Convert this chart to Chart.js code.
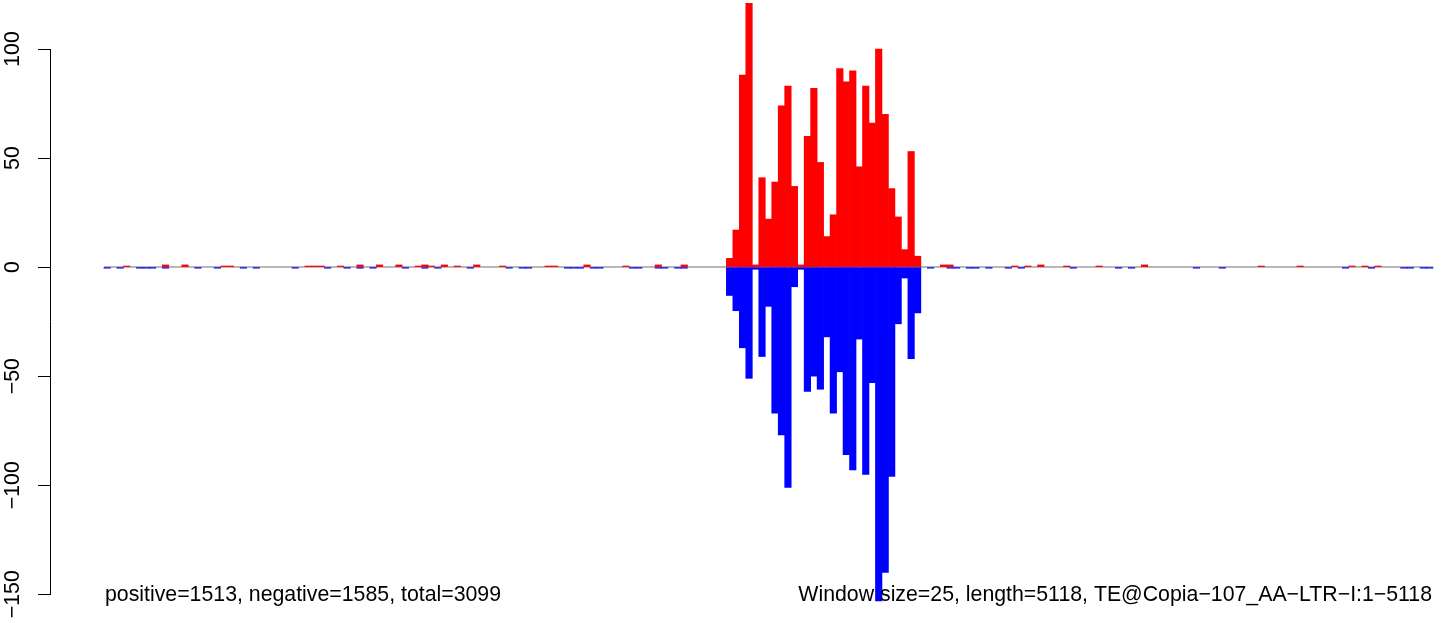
<!DOCTYPE html>
<html>
<head>
<meta charset="utf-8">
<script src="https://cdn.jsdelivr.net/npm/chart.js@4"></script>
<style>
  html, body { margin: 0; padding: 0; background: #ffffff; }
  #wrap { width: 1444px; height: 623px; position: relative; }
</style>
</head>
<body>
<div id="wrap"><canvas id="chart"></canvas></div>
<script>
// one bin per 25 bp window, 205 windows over 5118 bp
const binCount = 205;

const positive = [
  0, 0, 0, 0.5, 0, 0, 0, 0, 0, 1, 0, 0, 1, 0, 0, 0, 0, 0, 0.5, 0.5,
  0, 0, 0, 0, 0, 0, 0, 0, 0, 0, 0, 0.5, 0.5, 0.5, 0, 0, 0.5, 0, 0, 1,
  0, 0, 1, 0, 0, 1, 0, 0, 0.5, 1, 0.5, 0, 1, 0, 0.5, 0, 0, 1, 0, 0,
  0, 0.5, 0, 0, 0, 0, 0, 0, 0.5, 0.5, 0, 0, 0, 0, 1, 0, 0, 0, 0, 0,
  0.5, 0, 0, 0, 0, 1, 0, 0, 0, 1, 0, 0, 0, 0, 0, 0, 4, 17, 88, 121,
  1, 41, 22, 39, 74, 83, 37, 1, 60, 82, 48, 14, 24, 91, 85, 90, 46, 83, 66, 100,
  70, 36, 23, 8, 53, 5, 0, 0, 0, 1, 1, 0, 0, 0, 0, 0, 0, 0, 0, 0,
  0.5, 0, 0.5, 0, 1, 0, 0, 0, 0.5, 0, 0, 0, 0, 0.5, 0, 0, 0, 0, 0, 0,
  1, 0, 0, 0, 0, 0, 0, 0, 0, 0, 0, 0, 0, 0, 0, 0, 0, 0, 0.5, 0,
  0, 0, 0, 0, 0.5, 0, 0, 0, 0, 0, 0, 0, 0.5, 0, 0.5, 0, 0.5, 0, 0, 0,
  0, 0, 0, 0, 0
];

const negative = [
  -0.5, 0, -0.5, 0, 0, -0.5, -0.5, -0.5, 0, -0.5, 0, 0, 0, 0, -0.5, 0, 0, -0.5, 0, 0,
  0, -0.5, 0, -0.5, 0, 0, 0, 0, 0, -0.5, 0, 0, 0, 0, -0.5, 0, 0, -0.5, 0, -0.5,
  0, -0.5, 0, 0, 0, 0, -0.5, 0, 0, -0.5, 0, -0.5, 0, 0, 0, 0, -0.5, 0, 0, 0,
  0, 0, -0.5, 0, -0.5, -0.5, 0, 0, 0, 0, 0, -0.5, -0.5, -0.5, 0, -0.5, -0.5, 0, 0, 0,
  0, -0.5, -0.5, 0, 0, -0.5, -0.5, 0, -0.5, -0.5, 0, 0, 0, 0, 0, 0, -13, -20, -37, -51,
  -1, -41, -18, -67, -77, -101, -9, -1, -57, -50, -56, -32, -67, -48, -86, -93, -33, -95, -53, -153,
  -140, -96, -26, -5, -42, -21, 0, -0.5, 0, 0, -0.5, -0.5, 0, -0.5, -0.5, 0, -0.5, 0, 0, -0.5,
  0, -0.5, 0, 0, 0, 0, 0, 0, 0, -0.5, 0, 0, 0, 0, 0, 0, -0.5, 0, -0.5, 0,
  0, 0, 0, 0, 0, 0, 0, 0, -0.5, 0, 0, 0, -0.5, 0, 0, 0, 0, 0, 0, 0,
  0, 0, 0, 0, 0, 0, 0, 0, 0, 0, 0, -0.5, 0, 0, 0, -0.5, 0, 0, 0, 0,
  -0.5, -0.5, 0, -0.5, -0.5
];

const yTicks = [-150, -100, -50, 0, 50, 100];
const yTickLabels = ["\u2212150", "\u2212100", "\u221250", "0", "50", "100"];

const leftNote = "positive=1513, negative=1585, total=3099";
const rightNote = "Window size=25, length=5118, TE@Copia\u2212107_AA\u2212LTR\u2212I:1\u22125118";

const FONT = "21.3px 'Liberation Sans', Arial, Helvetica, sans-serif";

const toPoints = (arr) =>
  arr.map((v, i) => ({ x: i, y: v === 0 ? null : v }));

// grey baseline under the bars, R style axis and the two notes
const decor = {
  id: "decor",
  beforeDatasetsDraw(chart) {
    const { ctx, scales } = chart;
    const y0 = scales.y.getPixelForValue(0);
    ctx.save();
    ctx.strokeStyle = "#a0a0a0";
    ctx.lineWidth = 1.5;
    ctx.beginPath();
    ctx.moveTo(scales.x.getPixelForValue(-0.5), y0);
    ctx.lineTo(scales.x.getPixelForValue(binCount - 0.5), y0);
    ctx.stroke();
    ctx.restore();
  },
  afterDatasetsDraw(chart) {
    const { ctx, scales, chartArea } = chart;
    const ys = scales.y;
    ctx.save();
    // axis line between first and last tick
    ctx.strokeStyle = "#000000";
    ctx.lineWidth = 1;
    ctx.beginPath();
    ctx.moveTo(chartArea.left - 0.5, ys.getPixelForValue(yTicks[0]));
    ctx.lineTo(chartArea.left - 0.5, ys.getPixelForValue(yTicks[yTicks.length - 1]));
    ctx.stroke();

    // rotated tick labels
    ctx.fillStyle = "#000000";
    ctx.font = FONT;
    ctx.textAlign = "center";
    ctx.textBaseline = "alphabetic";
    yTicks.forEach((t, i) => {
      ctx.save();
      ctx.translate(19, ys.getPixelForValue(t));
      ctx.rotate(-Math.PI / 2);
      ctx.fillText(yTickLabels[i], 0, 0);
      ctx.restore();
    });

    const base = chartArea.bottom - 22;
    ctx.textAlign = "left";
    ctx.fillText(leftNote, scales.x.getPixelForValue(-0.5) + 1, base);
    ctx.textAlign = "right";
    ctx.fillText(rightNote, scales.x.getPixelForValue(binCount - 0.5) - 1, base);
    ctx.restore();
  }
};

new Chart(document.getElementById("chart"), {
  type: "bar",
  data: {
    datasets: [
      {
        data: toPoints(positive),
        backgroundColor: "#ff0000",
        borderWidth: 0,
        categoryPercentage: 1,
        barPercentage: 1
      },
      {
        data: toPoints(negative),
        backgroundColor: "#0000ff",
        borderWidth: 0,
        categoryPercentage: 1,
        barPercentage: 1
      }
    ]
  },
  options: {
    responsive: true,
    maintainAspectRatio: false,
    animation: false,
    devicePixelRatio: 1,
    layout: { padding: 0 },
    plugins: {
      legend: { display: false },
      tooltip: { enabled: false }
    },
    scales: {
      x: {
        type: "linear",
        stacked: true,
        display: false,
        min: -8.669,
        max: 206.19,
        offset: false
      },
      y: {
        stacked: true,
        position: "left",
        min: -163.18,
        max: 122.47,
        afterFit: (s) => { s.width = 51; },
        afterBuildTicks: (s) => { s.ticks = yTicks.map((v) => ({ value: v })); },
        ticks: { display: false },
        border: { display: false },
        grid: {
          drawOnChartArea: false,
          drawTicks: true,
          tickLength: 13,
          color: "#000000",
          lineWidth: 1
        }
      }
    }
  },
  plugins: [decor]
});
</script>
</body>
</html>
